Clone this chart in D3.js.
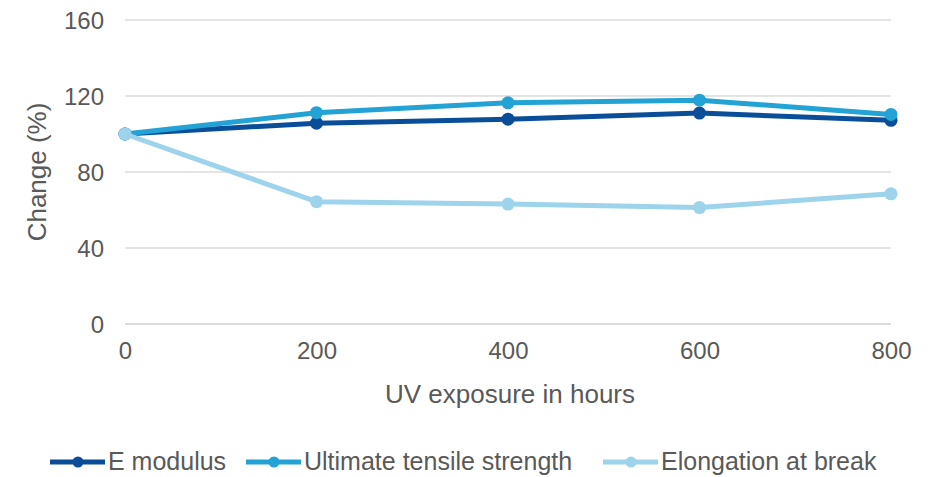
<!DOCTYPE html>
<html>
<head>
<meta charset="utf-8">
<script src="https://cdn.jsdelivr.net/npm/d3@7"></script>
<style>
  body { margin: 0; background: #fff; }
  text { font-family: "Liberation Sans", Arial, sans-serif; fill: #595959; }
</style>
</head>
<body>
<div id="chart"></div>
<script>
// data
var hours = [0, 200, 400, 600, 800];
var eModulus = [100, 105.7, 107.8, 111, 107.2];
var tensile = [100, 111.2, 116.4, 117.8, 110.3];
var elongation = [100, 64.4, 63.1, 61.3, 68.5];
var yTicks = [0, 40, 80, 120, 160];
var seriesNames = ["E modulus", "Ultimate tensile strength", "Elongation at break"];
var seriesColors = ["#0a4e9a", "#22a2d5", "#9dd3eb"];

var svgWidth = 930;
var svgHeight = 477;

var svg = d3.select("#chart")
  .append("svg")
  .attr("width", svgWidth)
  .attr("height", svgHeight);

// scales
var xScale = d3.scaleLinear().domain([0, 800]).range([125, 891]);
var yScale = d3.scaleLinear().domain([0, 160]).range([324, 20]);

// gridlines
svg.append("g")
  .selectAll("line")
  .data(yTicks)
  .enter()
  .append("line")
  .attr("x1", xScale(0))
  .attr("x2", xScale(800))
  .attr("y1", d => yScale(d))
  .attr("y2", d => yScale(d))
  .attr("stroke", d => d === 0 ? "#d0d0d0" : "#dcdcdc")
  .attr("stroke-width", 1.3);

// y axis labels
var yAxis = svg.append("g")
  .attr("transform", "translate(104,0)")
  .call(d3.axisLeft(yScale).tickValues(yTicks).tickSize(0).tickPadding(0));
yAxis.select(".domain").remove();
yAxis.selectAll("text")
  .style("font-size", "24px")
  .attr("fill", "#595959")
  .attr("dy", "0.34em");

// x axis labels
var xAxis = svg.append("g")
  .attr("transform", "translate(0,342)")
  .call(d3.axisBottom(xScale).tickValues(hours).tickSize(0).tickPadding(0));
xAxis.select(".domain").remove();
xAxis.selectAll("text")
  .style("font-size", "24px")
  .attr("fill", "#595959")
  .attr("dy", "0.71em");

// axis titles
svg.append("text")
  .attr("x", 510)
  .attr("y", 403)
  .attr("text-anchor", "middle")
  .style("font-size", "26px")
  .text("UV exposure in hours");

svg.append("text")
  .attr("transform", "translate(46,172) rotate(-90)")
  .attr("text-anchor", "middle")
  .style("font-size", "26px")
  .text("Change (%)");

// lines
var allSeries = [eModulus, tensile, elongation];
var line = d3.line()
  .x((d, i) => xScale(hours[i]))
  .y(d => yScale(d));

allSeries.forEach(function(values, k) {
  var g = svg.append("g");
  g.append("path")
    .datum(values)
    .attr("d", line)
    .attr("fill", "none")
    .attr("stroke", seriesColors[k])
    .attr("stroke-width", 5)
    .attr("stroke-linejoin", "round");
  g.selectAll("circle")
    .data(values)
    .enter()
    .append("circle")
    .attr("cx", (d, i) => xScale(hours[i]))
    .attr("cy", d => yScale(d))
    .attr("r", 6.5)
    .attr("fill", seriesColors[k]);
});

// legend
var legendX = [50, 246, 603];
var legend = svg.append("g");
seriesNames.forEach(function(name, k) {
  var lg = legend.append("g")
    .attr("transform", `translate(${legendX[k]}, 462)`);
  lg.append("line")
    .attr("x1", 0).attr("x2", 55)
    .attr("y1", 0).attr("y2", 0)
    .attr("stroke", seriesColors[k])
    .attr("stroke-width", 5);
  lg.append("circle")
    .attr("cx", 28).attr("cy", 0)
    .attr("r", 5.5)
    .attr("fill", seriesColors[k]);
  lg.append("text")
    .attr("x", 58)
    .attr("y", 0)
    .attr("dy", "0.33em")
    .style("font-size", "25px")
    .text(name);
});
</script>
</body>
</html>
